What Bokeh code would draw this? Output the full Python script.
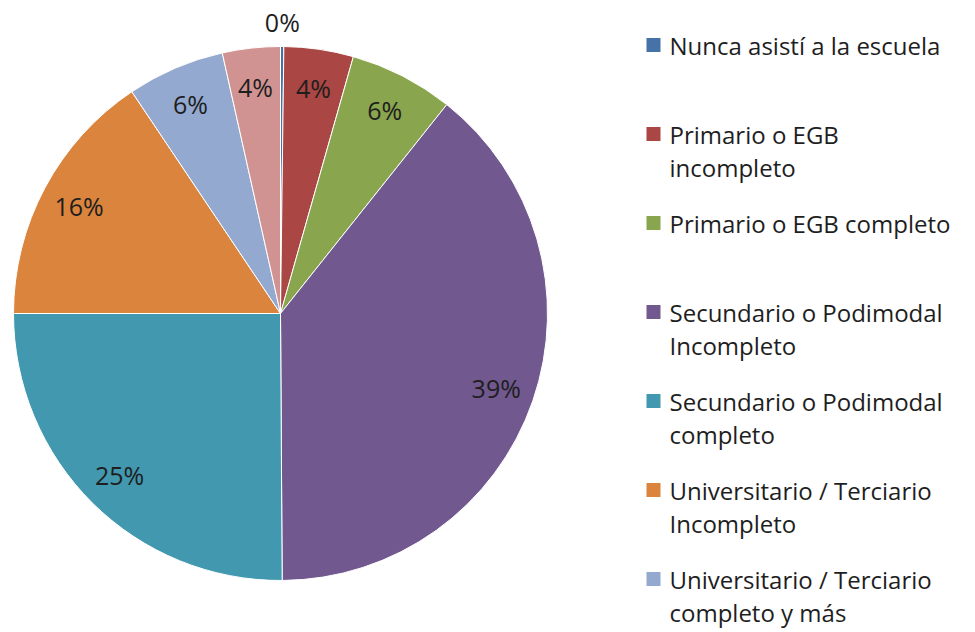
import math
from bokeh.plotting import figure
from bokeh.models import Range1d, ColumnDataSource
from bokeh.core.properties import value
from bokeh.embed import file_html
from bokeh.resources import INLINE

categories = [
    "Nunca asistí a la escuela",
    "Primario o EGB\nincompleto",
    "Primario o EGB completo",
    "Secundario o Podimodal\nIncompleto",
    "Secundario o Podimodal\ncompleto",
    "Universitario / Terciario\nIncompleto",
    "Universitario / Terciario\ncompleto y más",
    "Ns/Nc",
]
values = [0.2, 4.2, 6.3, 39.2, 25.1, 15.6, 5.9, 3.5]
colors = ["#4572A7", "#AA4643", "#89A54E", "#71588F", "#4198AF", "#DB843D", "#93A9CF", "#D19392"]

W, H = 975, 632
FONT = "Open Sans"

p = figure(width=W, height=H, x_range=Range1d(0, W), y_range=Range1d(0, H),
           output_backend="svg", toolbar_location=None, min_border=0)
p.axis.visible = False
p.grid.visible = False
p.outline_line_color = None
p.background_fill_color = "white"

cx, cy, R = 280, H - 313, 267
total = sum(values)
starts, ends, lx, ly, labels = [], [], [], [], []
cum = 0.0
for v in values:
    a0 = math.pi / 2 - 2 * math.pi * cum / total
    cum += v
    a1 = math.pi / 2 - 2 * math.pi * cum / total
    starts.append(a0)
    ends.append(a1)
    mid = (a0 + a1) / 2
    rl = R * 1.09 if v / total < 0.01 else R * 0.855
    lx.append(cx + rl * math.cos(mid))
    ly.append(cy + rl * math.sin(mid))
    labels.append(f"{round(100 * v / total)}%")

src = ColumnDataSource(dict(start=starts, end=ends, color=colors))
p.wedge(x=cx, y=cy, radius=R, start_angle="start", end_angle="end", direction="clock",
        fill_color="color", line_color="white", line_width=1, source=src)

p.text(x=lx, y=ly, text=labels, text_font=value(FONT), text_font_size="25px",
       text_color="#1e1e1e", text_align="center", text_baseline="middle")

# legend (first 7 entries fit in the window)
n_leg = 7
mx, my, tx1, tx2, ty1, ty2, t1, t2 = [], [], [], [], [], [], [], []
for i in range(n_leg):
    yy = H - (44.5 + 89 * i)
    mx.append(653)
    my.append(yy)
    parts = categories[i].split("\n")
    tx1.append(669); ty1.append(yy); t1.append(parts[0])
    if len(parts) > 1:
        tx2.append(669); ty2.append(yy - 33.5); t2.append(parts[1])

p.scatter(x=mx, y=my, marker="square", size=14, fill_color=colors[:n_leg], line_color=None)
p.text(x=tx1, y=ty1, text=t1, text_font=value(FONT), text_font_size="24px",
       text_color="#1e1e1e", text_align="left", text_baseline="middle")
p.text(x=tx2, y=ty2, text=t2, text_font=value(FONT), text_font_size="24px",
       text_color="#1e1e1e", text_align="left", text_baseline="middle")

open("out.html", "w").write(file_html(p, INLINE))
